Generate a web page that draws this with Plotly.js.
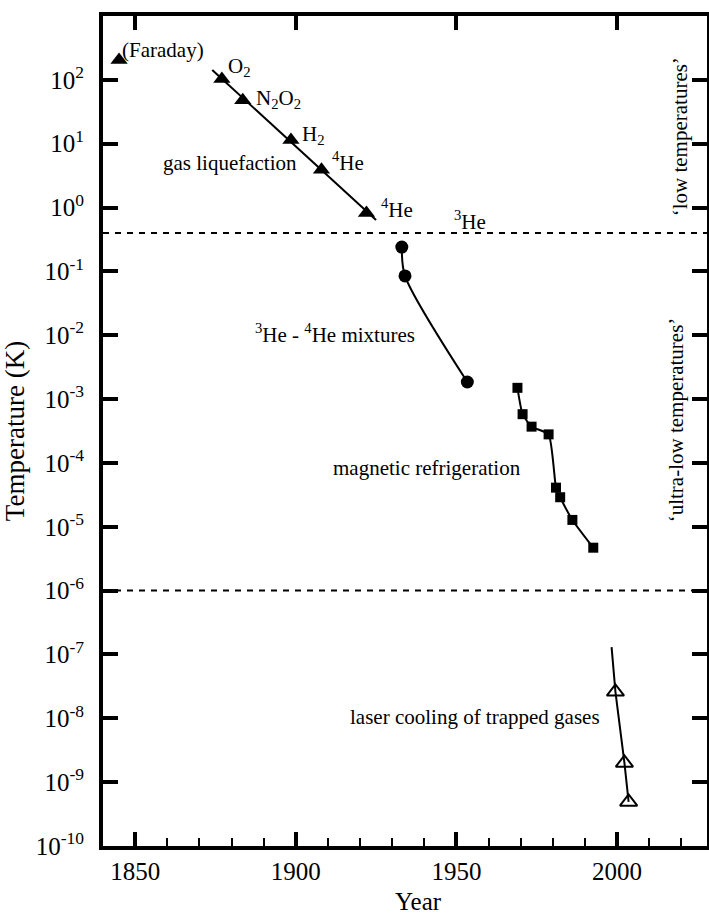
<!DOCTYPE html>
<html>
<head>
<meta charset="utf-8">
<script src="https://cdn.plot.ly/plotly-3.0.1.min.js"></script>
<style>
html,body{margin:0;padding:0;background:#fff;}
#chart{width:709px;height:918px;}
</style>
</head>
<body>
<div id="chart"></div>
<script>
// ---- data ----
var gasYears = [1845, 1877, 1883.5, 1898.5, 1908, 1922];
var gasTemps = [205, 103, 48, 11.4, 3.9, 0.82];
var gasLineYears = [1874, 1925];
var gasLineTemps = [143, 0.64];

var mixYears = [1933, 1934, 1953.4];
var mixTemps = [0.24, 0.085, 0.00185];

var magYears = [1969, 1970.6, 1973.4, 1978.7, 1981, 1982.3, 1986.1, 1992.6];
var magTemps = [0.0015, 0.00058, 0.00037, 0.00028, 0.000041, 0.000029, 0.0000128, 0.0000047];

var laserYears = [1999.5, 2002.3, 2003.6];
var laserTemps = [2.6e-8, 2e-9, 4.9e-10];
var laserLineYears = [1998.3, 1999.5, 2002.3, 2003.6];
var laserLineTemps = [1.3e-7, 2.6e-8, 2e-9, 4.9e-10];

var limitTemps = [0.4, 1e-6];

var xTickVals = [1850, 1900, 1950, 2000];
var xTickText = ['1850', '1900', '1950', '2000'];
var yExponents = [3, 2, 1, 0, -1, -2, -3, -4, -5, -6, -7, -8, -9, -10];

// ---- build ----
var xRange = [1840, 2028];
var FONT = 'Liberation Serif';
var yTickVals = yExponents.map(function (e) { return Math.pow(10, e); });
var yTickText = yExponents.map(function (e) { return '10<sup>' + e + '</sup>'; });

var traces = [];
traces.push({x: gasLineYears, y: gasLineTemps, mode: 'lines', line: {color: '#000', width: 2}, hoverinfo: 'skip'});
traces.push({x: gasYears, y: gasTemps, mode: 'markers', marker: {symbol: 'triangle-up', size: 15, color: '#000'}});
traces.push({x: mixYears, y: mixTemps, mode: 'lines+markers', line: {color: '#000', width: 2, shape: 'spline', smoothing: 0.8}, marker: {symbol: 'circle', size: 13, color: '#000'}});
traces.push({x: magYears, y: magTemps, mode: 'lines+markers', line: {color: '#000', width: 2, shape: 'spline', smoothing: 0.5}, marker: {symbol: 'square', size: 10, color: '#000'}});
traces.push({x: laserLineYears, y: laserLineTemps, mode: 'lines', line: {color: '#000', width: 2}, hoverinfo: 'skip'});
traces.push({x: laserYears, y: laserTemps, mode: 'markers', marker: {symbol: 'triangle-up-open', size: 15, color: '#000', line: {width: 2, color: '#000'}}});
limitTemps.forEach(function (t) {
  traces.push({x: xRange, y: [t, t], mode: 'lines', line: {color: '#000', width: 2, dash: '6px,6px'}, hoverinfo: 'skip'});
});
// top-axis carrier (invisible copy of the gas points on the top axis)
traces.push({x: gasYears, y: gasTemps, xaxis: 'x2', yaxis: 'y', mode: 'markers', marker: {size: 1, color: 'rgba(0,0,0,0)'}, hoverinfo: 'skip'});

function ann(text, x, ly, opts) {
  var a = {text: text, x: x, y: ly, xref: 'x', yref: 'y', showarrow: false,
           xanchor: 'left', yanchor: 'middle', font: {family: FONT, size: 21, color: '#000'}};
  if (opts) for (var k in opts) a[k] = opts[k];
  return a;
}

var L = 103, R = 2, T = 16, B = 72, W = 709, H = 918;
var pw = W - L - R, ph = H - T - B;

var annotations = [
  ann('(Faraday)', 1845.3, 2.47),
  ann('O<sub>2</sub>', 1878.4, 2.2),
  ann('N<sub>2</sub>O<sub>2</sub>', 1887.1, 1.70),
  ann('H<sub>2</sub>', 1901.2, 1.14),
  ann('gas liquefaction', 1858.1, 0.70),
  ann('<sup>4</sup>He', 1910.8, 0.72),
  ann('<sup>4</sup>He', 1925.8, -0.02),
  ann('<sup>3</sup>He', 1948.5, -0.20),
  ann('<sup>3</sup>He - <sup>4</sup>He mixtures', 1886.8, -1.97),
  ann('magnetic refrigeration', 1911.1, -4.08),
  ann('laser cooling of trapped gases', 1916.4, -7.98),
  ann('\u2018low temperatures\u2019', 2019.6, 1.10, {textangle: -90, xanchor: 'center', yanchor: 'middle'}),
  ann('\u2018ultra-low temperatures\u2019', 2018.4, -3.33, {textangle: -90, xanchor: 'center', yanchor: 'middle'}),
  {text: 'Year', x: (418 - L) / pw, y: (H - B - 901) / ph, xref: 'paper', yref: 'paper', showarrow: false,
   xanchor: 'center', yanchor: 'middle', font: {family: FONT, size: 25, color: '#000'}}
];

var layout = {
  width: W, height: H,
  margin: {l: L, r: R, t: T, b: B, pad: 0},
  paper_bgcolor: '#fff', plot_bgcolor: '#fff',
  showlegend: false,
  font: {family: FONT, color: '#000'},
  xaxis: {
    range: xRange, tickmode: 'array', tickvals: xTickVals, ticktext: xTickText,
    ticks: 'inside', ticklen: 14, tickwidth: 4, tickcolor: '#000',
    minor: {dtick: 10, tick0: 1850, ticks: 'inside', ticklen: 8, tickwidth: 2, tickcolor: '#000'},
    showline: true, linewidth: 4, linecolor: '#000', mirror: true,
    showgrid: false, zeroline: false,
    tickfont: {family: FONT, size: 25, color: '#000'}
  },
  xaxis2: {
    overlaying: 'x', anchor: 'y', side: 'top', range: xRange, tickmode: 'array', tickvals: xTickVals,
    ticks: 'inside', ticklen: 14, tickwidth: 4, tickcolor: '#000',
    showticklabels: false, showline: false, showgrid: false, zeroline: false
  },
  yaxis: {
    type: 'log', range: [-10, 3], tickmode: 'array', tickvals: yTickVals, ticktext: yTickText,
    ticks: 'inside', ticklen: 15, tickwidth: 4, tickcolor: '#000',
    showline: true, linewidth: 4, linecolor: '#000', mirror: 'ticks',
    showgrid: false, zeroline: false,
    tickfont: {family: FONT, size: 25, color: '#000'}, ticklabelstandoff: 10,
    title: {text: 'Temperature (K)', font: {family: FONT, size: 27, color: '#000'}, standoff: 6}
  },
  annotations: annotations
};

Plotly.newPlot('chart', traces, layout, {displayModeBar: false, staticPlot: true});
</script>
</body>
</html>
